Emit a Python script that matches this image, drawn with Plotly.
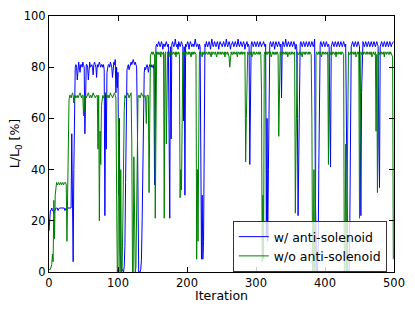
import plotly.graph_objects as go

# L/L0 [%] per iteration, with anti-solenoid (blue)
w_anti = [
    16, 22, 24, 24, 25, 24, 24, 23, 24, 24,
    25, 25, 25, 24, 25, 25, 25, 25, 25, 25,
    25, 25, 25, 24, 25, 25, 25, 25, 25, 25,
    25, 25, 25, 54, 30, 4, 40, 72, 80, 81,
    80, 75, 81, 82, 80, 78, 81, 81, 80, 82,
    81, 80, 54, 72, 81, 81, 80, 75, 81, 82,
    80, 81, 81, 80, 77, 81, 82, 81, 80, 76,
    81, 80, 81, 82, 81, 80, 81, 81, 80, 81,
    79, 22, 70, 48, 78, 80, 81, 81, 80, 82,
    81, 80, 76, 81, 82, 81, 83, 70, 80, 72,
    78, 30, 60, 8, 0, 0, 1, 0, 0, 2,
    10, 35, 68, 79, 80, 81, 79, 80, 81, 82,
    81, 82, 83, 82, 81, 82, 81, 80, 60, 20,
    0, 0, 0, 1, 5, 20, 45, 70, 78, 80,
    79, 80, 81, 80, 78, 80, 81, 80, 81, 80,
    80, 81, 79, 34, 80, 88, 89, 88, 89, 90,
    89, 88, 89, 90, 89, 87, 89, 89, 88, 89,
    90, 89, 88, 89, 50, 21, 88, 52, 89, 90,
    89, 88, 89, 91, 89, 88, 89, 87, 90, 89,
    88, 89, 90, 89, 88, 59, 88, 30, 89, 88,
    89, 90, 89, 87, 89, 90, 89, 88, 89, 89,
    88, 89, 91, 89, 88, 89, 89, 87, 89, 88,
    50, 5, 30, 5, 12, 85, 89, 88, 90, 89,
    88, 89, 90, 89, 87, 89, 91, 89, 88, 89,
    90, 89, 88, 89, 90, 89, 87, 89, 90, 89,
    89, 88, 89, 90, 89, 88, 89, 91, 89, 88,
    89, 90, 89, 87, 89, 89, 90, 89, 88, 89,
    90, 89, 88, 89, 91, 89, 88, 89, 90, 89,
    88, 89, 90, 89, 87, 89, 89, 90, 88, 89,
    88, 42, 80, 89, 90, 89, 88, 89, 90, 89,
    88, 89, 90, 89, 88, 89, 90, 89, 88, 89,
    89, 90, 89, 88, 89, 14, 60, 12, 40, 88,
    89, 90, 89, 88, 89, 90, 89, 87, 89, 90,
    89, 88, 89, 90, 89, 88, 89, 68, 89, 90,
    89, 88, 89, 91, 89, 88, 89, 90, 89, 88,
    89, 90, 89, 88, 89, 90, 89, 87, 89, 88,
    60, 22, 45, 88, 89, 90, 89, 88, 89, 90,
    89, 88, 89, 90, 89, 88, 89, 90, 89, 88,
    89, 90, 89, 88, 89, 91, 30, 2, 0, 0,
    5, 40, 85, 89, 90, 89, 88, 89, 90, 89,
    88, 89, 90, 89, 88, 89, 88, 60, 41, 88,
    89, 90, 89, 88, 89, 90, 89, 88, 89, 90,
    89, 88, 89, 90, 89, 88, 89, 90, 89, 88,
    89, 60, 10, 0, 0, 1, 20, 70, 88, 89,
    90, 89, 88, 89, 90, 89, 88, 89, 90, 89,
    88, 60, 22, 70, 89, 90, 89, 88, 89, 90,
    89, 88, 89, 90, 89, 88, 89, 90, 89, 88,
    89, 90, 89, 88, 89, 90, 89, 88, 50, 33,
    88, 89, 90, 89, 88, 89, 90, 89, 88, 89,
    90, 89, 88, 89, 90, 89, 88, 89, 90, 90,
]

# L/L0 [%] per iteration, without anti-solenoid (green)
wo_anti = [
    1, 1, 1, 2, 3, 7, 4, 28, 13, 30,
    34, 35, 34, 35, 35, 34, 35, 35, 34, 35,
    35, 34, 35, 35, 35, 34, 12, 34, 35, 67,
    69, 69, 68, 69, 70, 69, 66, 69, 69, 68,
    69, 69, 68, 69, 69, 70, 69, 68, 69, 69,
    61, 69, 63, 69, 68, 69, 69, 70, 69, 68,
    69, 69, 68, 69, 70, 69, 69, 68, 69, 69,
    69, 48, 69, 20, 55, 42, 65, 69, 69, 68,
    69, 69, 70, 69, 68, 69, 69, 68, 69, 70,
    69, 69, 68, 69, 69, 70, 69, 68, 30, 0,
    2, 60, 0, 0, 40, 0, 1, 20, 55, 63,
    69, 68, 69, 69, 70, 69, 68, 69, 69, 70,
    50, 0, 0, 45, 0, 0, 2, 30, 60, 68,
    69, 69, 68, 69, 70, 69, 69, 68, 69, 69,
    68, 58, 69, 69, 69, 31, 70, 85, 85, 86,
    85, 86, 85, 85, 21, 85, 86, 85, 86, 85,
    85, 86, 84, 86, 85, 85, 86, 21, 85, 86,
    50, 85, 86, 85, 84, 86, 85, 86, 85, 85,
    86, 85, 85, 86, 84, 86, 85, 85, 86, 85,
    29, 40, 32, 85, 86, 85, 85, 86, 84, 86,
    85, 85, 86, 85, 86, 85, 84, 86, 85, 86,
    85, 86, 85, 85, 5, 40, 12, 85, 86, 85,
    86, 85, 84, 86, 85, 86, 85, 85, 86, 85,
    85, 86, 85, 86, 85, 84, 86, 85, 86, 85,
    85, 86, 85, 84, 86, 85, 86, 85, 85, 86,
    85, 86, 85, 85, 86, 84, 86, 85, 85, 86,
    85, 84, 80, 85, 86, 85, 85, 86, 85, 86,
    85, 85, 86, 84, 86, 85, 85, 86, 85, 86,
    85, 86, 85, 85, 86, 43, 60, 85, 86, 85,
    85, 86, 85, 86, 84, 85, 86, 85, 86, 85,
    85, 86, 85, 85, 86, 85, 86, 85, 70, 4,
    30, 5, 85, 86, 85, 85, 86, 85, 86, 85,
    85, 86, 84, 85, 86, 85, 86, 85, 85, 86,
    85, 86, 85, 53, 85, 86, 85, 85, 86, 85,
    86, 85, 85, 86, 85, 86, 84, 85, 86, 85,
    85, 86, 85, 86, 85, 85, 86, 23, 50, 85,
    86, 85, 85, 86, 85, 86, 85, 84, 86, 85,
    85, 86, 85, 86, 85, 85, 86, 85, 86, 85,
    85, 60, 0, 1, 40, 0, 2, 85, 86, 85,
    85, 86, 85, 86, 85, 84, 86, 85, 86, 85,
    85, 86, 85, 85, 86, 42, 85, 86, 85, 85,
    86, 85, 86, 85, 85, 86, 84, 86, 85, 85,
    86, 85, 85, 86, 85, 86, 85, 85, 0, 1,
    50, 0, 30, 85, 86, 85, 85, 86, 85, 86,
    85, 85, 86, 85, 86, 84, 85, 86, 85, 86,
    21, 85, 86, 85, 85, 86, 85, 86, 85, 85,
    86, 85, 86, 85, 85, 86, 85, 86, 84, 85,
    86, 85, 85, 86, 55, 85, 31, 86, 85, 85,
    86, 85, 86, 85, 85, 86, 84, 86, 85, 85,
    86, 85, 85, 86, 85, 86, 85, 85, 84, 5,
]

if len(w_anti) != 500 or len(wo_anti) != 500:
    raise SystemExit(f"lengths {len(w_anti)} {len(wo_anti)}")

iterations = list(range(len(w_anti)))
x_ticks = [0, 100, 200, 300, 400, 500]
y_ticks = [0, 20, 40, 60, 80, 100]

FONT = "DejaVu Sans"

fig = go.Figure()
fig.add_trace(go.Scatter(x=iterations, y=w_anti, mode="lines", name="w/ anti-solenoid",
                         line=dict(color="#0000ff", width=1)))
fig.add_trace(go.Scatter(x=iterations, y=wo_anti, mode="lines", name="w/o anti-solenoid",
                         line=dict(color="#008000", width=1)))

axis_common = dict(showline=True, linecolor="black", linewidth=1, mirror="ticks",
                   ticks="inside", ticklen=5, tickcolor="black", showgrid=False,
                   zeroline=False, automargin=False,
                   tickfont=dict(family=FONT, size=11.5, color="black"))

fig.update_xaxes(range=[0, 500], tickvals=x_ticks, **axis_common)
fig.update_yaxes(range=[0, 100], tickvals=y_ticks, **axis_common)

title_font = dict(family=FONT, size=12.5, color="black")
fig.add_annotation(text="Iteration", xref="paper", yref="paper", x=0.5, y=-0.09,
                   xanchor="center", yanchor="middle", showarrow=False, font=title_font)
fig.add_annotation(text="L/L<sub>0</sub> [%]", xref="paper", yref="paper", x=-0.098, y=0.5,
                   xanchor="center", yanchor="middle", textangle=-90, showarrow=False,
                   font=title_font)

fig.update_layout(
    width=415, height=312,
    margin=dict(l=49, r=21, t=16, b=40),
    paper_bgcolor="white", plot_bgcolor="white",
    font=dict(family=FONT, color="black"),
    legend=dict(x=0.979, y=0.0, xanchor="right", yanchor="bottom",
                bgcolor="rgba(255,255,255,0.8)", bordercolor="#333333", borderwidth=1,
                font=dict(family=FONT, size=12.5, color="black"),
                itemwidth=30, tracegroupgap=0),
    showlegend=True,
)

fig.write_html("out.html", config={"displayModeBar": False},
               post_script="document.body.style.margin='0';")
